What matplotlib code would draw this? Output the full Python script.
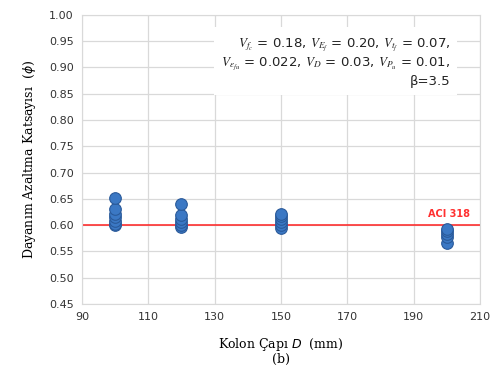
import matplotlib.pyplot as plt
import numpy as np

# column diameter groups and the reliability-based phi values
d100 = [0.600, 0.603, 0.608, 0.615, 0.622, 0.630, 0.652]
d120 = [0.596, 0.600, 0.605, 0.612, 0.620, 0.640]
d150 = [0.595, 0.600, 0.605, 0.612, 0.618, 0.622]
d200 = [0.565, 0.578, 0.583, 0.588, 0.592]
diameters = [100, 120, 150, 200]
groups = [d100, d120, d150, d200]
aci_phi = 0.60

fig = plt.figure(figsize=(4.93, 3.72), dpi=100)
ax = fig.add_axes([0.166, 0.183, 0.808, 0.777])

for D, vals in zip(diameters, groups):
    ax.scatter([D] * len(vals), vals, s=70, color='#3B78C4',
               edgecolors='#2A5A9A', linewidths=0.8, zorder=3)

ax.axhline(aci_phi, color='#FF2020', lw=1.1, zorder=2)
ax.text(200.5, 0.612, 'ACI 318', color='#FF3030', fontsize=7, fontweight='bold',
        ha='center', va='bottom')

ax.set_xlim(90, 210)
ax.set_ylim(0.45, 1.00)
ax.set_xticks(np.arange(90, 211, 20))
ax.set_yticks(np.arange(0.45, 1.001, 0.05))
ax.set_yticklabels([f'{v:.2f}' for v in np.arange(0.45, 1.001, 0.05)])
ax.grid(True, color='#D9D9D9', lw=0.9)
ax.set_axisbelow(True)
for s in ax.spines.values():
    s.set_color('#D9D9D9')
ax.tick_params(length=0, labelsize=8, colors='#333333', pad=6)

plt.rcParams['mathtext.fontset'] = 'stix'
txt = ('$V_{f_c}$ = 0.18, $V_{E_f}$ = 0.20, $V_{t_f}$ = 0.07,\n'
       '$V_{\\epsilon_{fu}}$ = 0.022, $V_D$ = 0.03, $V_{P_u}$ = 0.01,\n'
       'β=3.5')
ax.text(0.925, 0.925, txt, transform=ax.transAxes, ha='right', va='top',
        fontsize=9.5, linespacing=1.25, color='#222222',
        bbox=dict(facecolor='white', edgecolor='none', pad=5), zorder=4)

ax.set_ylabel('Dayanım Azaltma Katsayısı  ($\\phi$)', family='DejaVu Serif',
              fontsize=9, labelpad=8)
ax.set_xlabel('Kolon Çapı $D$  (mm)\n(b)', family='DejaVu Serif', fontsize=9,
              linespacing=1.0, labelpad=10)

plt.savefig('out.png', dpi=100)
